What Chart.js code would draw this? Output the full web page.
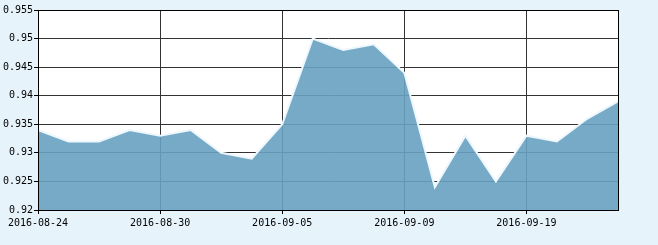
<!DOCTYPE html>
<html>
<head>
<meta charset="utf-8">
<script src="https://cdn.jsdelivr.net/npm/chart.js@4/dist/chart.umd.min.js"></script>
<style>
  body { margin: 0; background: #e7f3fb; }
  canvas { display: block; }
</style>
</head>
<body>
<canvas id="areaChart" width="658" height="245"></canvas>
<script>
// dados
var datas = ['2016-08-24', '2016-08-25', '2016-08-26', '2016-08-29', '2016-08-30',
             '2016-08-31', '2016-09-01', '2016-09-02', '2016-09-05', '2016-09-06',
             '2016-09-07', '2016-09-08', '2016-09-09', '2016-09-12', '2016-09-13',
             '2016-09-14', '2016-09-19', '2016-09-20', '2016-09-21', '2016-09-22'];
var valores = [0.934, 0.932, 0.932, 0.934, 0.933, 0.934, 0.930, 0.929, 0.935, 0.950,
               0.948, 0.949, 0.944, 0.924, 0.933, 0.925, 0.933, 0.932, 0.936, 0.939];
var eixoYMin = 0.92;
var eixoYMax = 0.955;
var eixoYPasso = 0.005;

// fundo branco e moldura preta da área do gráfico
var moldura = {
    id: 'moldura',
    beforeDraw: function (chart) {
        var a = chart.chartArea, ctx = chart.ctx;
        ctx.save();
        ctx.fillStyle = '#ffffff';
        ctx.fillRect(a.left, a.top, a.right - a.left, a.bottom - a.top);
        ctx.restore();
    },
    afterDraw: function (chart) {
        var a = chart.chartArea, ctx = chart.ctx;
        ctx.save();
        ctx.strokeStyle = '#000000';
        ctx.lineWidth = 1;
        ctx.strokeRect(Math.round(a.left) + 0.5, Math.round(a.top) + 0.5,
                       Math.round(a.right - a.left), Math.round(a.bottom - a.top));
        ctx.restore();
    }
};

window.onload = function () {
    var ctx = document.getElementById('areaChart').getContext('2d');
    new Chart(ctx, {
        type: 'line',
        data: {
            labels: datas,
            datasets: [{
                data: valores,
                fill: 'origin',
                backgroundColor: 'rgba(103, 161, 192, 0.9)',
                borderColor: '#eef7fd',
                borderWidth: 2,
                pointRadius: 0,
                tension: 0
            }]
        },
        plugins: [moldura],
        options: {
            responsive: false,
            animation: false,
            layout: { padding: { top: 10, right: 40, left: 0, bottom: 0 } },
            plugins: {
                legend: { display: false },
                tooltip: { enabled: false }
            },
            scales: {
                x: {
                    offset: false,
                    afterFit: function (s) { s.height = 35; },
                    border: { color: '#000000' },
                    grid: {
                        color: '#333333',
                        tickColor: '#000000',
                        tickLength: 4
                    },
                    ticks: {
                        autoSkip: false,
                        maxRotation: 0,
                        padding: 3,
                        color: '#000000',
                        font: { family: 'DejaVu Sans Mono', size: 10 },
                        callback: function (v, i) { return i % 4 === 0 ? datas[i] : null; }
                    }
                },
                y: {
                    min: eixoYMin,
                    max: eixoYMax,
                    afterFit: function (s) { s.width = 38; },
                    border: { color: '#000000' },
                    grid: {
                        color: '#333333',
                        tickColor: '#000000',
                        tickLength: 4
                    },
                    ticks: {
                        stepSize: eixoYPasso,
                        padding: 1,
                        color: '#000000',
                        font: { family: 'DejaVu Sans Mono', size: 10 },
                        callback: function (v) { return String(parseFloat(v.toFixed(3))); }
                    }
                }
            }
        }
    });
}
</script>
</body>
</html>
